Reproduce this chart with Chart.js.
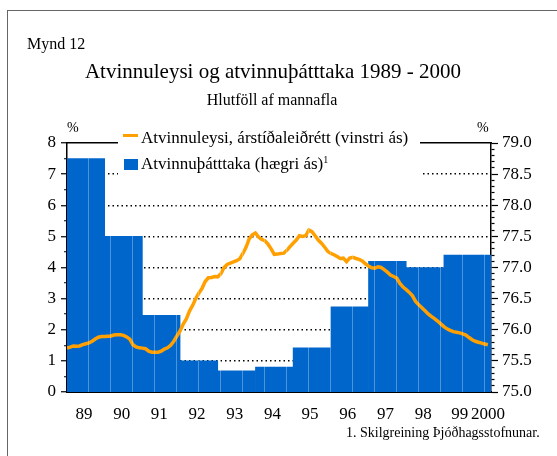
<!DOCTYPE html>
<html>
<head>
<meta charset="utf-8">
<script src="https://cdn.jsdelivr.net/npm/chart.js@4.4.0/dist/chart.umd.min.js"></script>
<style>
html, body { margin: 0; padding: 0; width: 557px; height: 456px; overflow: hidden; background: #fff; }
body { position: relative; font-family: "Liberation Serif", "Times New Roman", serif; color: #000; }
#chart { position: absolute; left: 0; top: 0; }
.rule { position: absolute; background: #666; z-index: 2; }
.txt { position: absolute; white-space: nowrap; }
#legend { position: absolute; left: 118px; top: 126px; width: 302px; height: 51px; background: #fff; }
.swatch { position: absolute; }
sup { font-size: 10px; line-height: 0; vertical-align: 6px; }
</style>
</head>
<body>
<canvas id="chart" width="557" height="456"></canvas>
<div class="rule" style="left:7px; top:10px; width:550px; height:1px;"></div>
<div class="rule" style="left:7px; top:10px; width:1px; height:446px;"></div>

<div class="txt" style="left:27px; top:36px; font-size:16px; line-height:16px;">Mynd 12</div>
<div class="txt" style="left:0; width:546px; text-align:center; top:61px; font-size:21px; line-height:21px;">Atvinnuleysi og atvinnuþátttaka 1989 - 2000</div>
<div class="txt" style="left:0; width:544px; text-align:center; top:92px; font-size:16px; line-height:16px;">Hlutföll af mannafla</div>
<div class="txt" style="left:67px; top:121px; font-size:14px; line-height:14px;">%</div>
<div class="txt" style="left:477px; top:121px; font-size:14px; line-height:14px;">%</div>

<div id="legend">
  <div class="swatch" style="left:5px; top:8px; width:15px; height:3px; background:#ffa000;"></div>
  <div class="txt" style="left:23px; top:3px; font-size:17px; line-height:17px;">Atvinnuleysi, árstíðaleiðrétt (vinstri ás)</div>
  <div class="swatch" style="left:6px; top:33px; width:14px; height:11px; background:#0066cc;"></div>
  <div class="txt" style="left:23px; top:29px; font-size:17px; line-height:17px;">Atvinnuþátttaka (hægri ás)<sup>1</sup></div>
</div>

<div class="txt" style="left:346px; top:426px; font-size:14px; line-height:14px;">1. Skilgreining Þjóðhagsstofnunar.</div>

<script>
// Atvinnuleysi, árstíðaleiðrétt, % af mannafla, mánaðarlega frá jan. 1989
const unemploymentStart = 1989;
const unemployment = [
    1.41, 1.44, 1.48, 1.47, 1.48, 1.52, 1.55, 1.58, 1.63, 1.70, 1.76, 1.78,
    1.78, 1.79, 1.80, 1.83, 1.84, 1.84, 1.82, 1.77, 1.70, 1.52, 1.45, 1.42,
    1.41, 1.39, 1.31, 1.28, 1.28, 1.28, 1.31, 1.38, 1.42, 1.50, 1.63, 1.80,
    1.96, 2.18, 2.35, 2.60, 2.78, 3.00, 3.18, 3.33, 3.55, 3.67, 3.68, 3.71,
    3.70, 3.80, 4.00, 4.10, 4.14, 4.18, 4.22, 4.28, 4.45, 4.65, 4.92, 5.05,
    5.11, 4.98, 4.90, 4.86, 4.75, 4.60, 4.42, 4.43, 4.45, 4.46, 4.55, 4.67,
    4.78, 4.88, 5.02, 5.00, 5.02, 5.20, 5.15, 5.02, 4.88, 4.78, 4.66, 4.52,
    4.45, 4.41, 4.35, 4.29, 4.30, 4.19, 4.30, 4.33, 4.29, 4.26, 4.21, 4.12,
    4.05, 3.99, 3.98, 4.02, 4.00, 3.93, 3.85, 3.76, 3.71, 3.66, 3.49, 3.37,
    3.29, 3.20, 3.09, 2.91, 2.80, 2.71, 2.61, 2.51, 2.43, 2.36, 2.28, 2.19,
    2.10, 2.03, 1.98, 1.94, 1.92, 1.90, 1.87, 1.83, 1.75, 1.68, 1.63, 1.60,
    1.57, 1.54, 1.52
];

// Atvinnuþátttaka, ársgildi (%)
const participationYears = [1989, 1990, 1991, 1992, 1993, 1994, 1995, 1996, 1997, 1998, 1999, 2000];
const participation = [78.75, 77.5, 76.23, 75.5, 75.34, 75.4, 75.71, 76.37, 77.1, 77.0, 77.2, 77.2];

// x axis: years, labels sit near the middle of each year
const xMin = 1989;
const xMax = 2000.25;
const xTickYears = [1989.45, 1990.45, 1991.45, 1992.45, 1993.45, 1994.45, 1995.45, 1996.45, 1997.45, 1998.45, 1999.42, 2000.17];
const xTickLabels = ['89', '90', '91', '92', '93', '94', '95', '96', '97', '98', '99', '2000'];

// y axes
const leftMin = 0, leftMax = 8, leftStep = 0.5;
const rightMin = 75, rightMax = 79, rightStep = 0.1;

const isHalf = v => Math.abs(v * 2 - Math.round(v * 2)) < 1e-6;

Chart.defaults.font.family = '"Liberation Serif", "Times New Roman", serif';
Chart.defaults.font.size = 17;
Chart.defaults.color = '#000';

// thin light seams across the bars, as in the original print
const seamStep = 7 / 12;
const seams = [];
for (let t = xMin + seamStep; t < xMax; t += seamStep) seams.push({ value: t });

const ctx = document.getElementById('chart').getContext('2d');
new Chart(ctx, {
    type: 'line',
    data: {
        datasets: [{
            type: 'line',
            label: 'Atvinnuleysi, árstíðaleiðrétt (vinstri ás)',
            data: unemployment.map((v, i) => ({ x: unemploymentStart + i / 12, y: v })),
            xAxisID: 'x',
            yAxisID: 'y',
            borderColor: '#ffa000',
            borderWidth: 3.5,
            pointRadius: 0,
            tension: 0
        }, {
            type: 'bar',
            label: 'Atvinnuþátttaka (hægri ás)',
            data: participationYears.map((yr, i) => ({ x: yr + 0.5, y: participation[i] })),
            xAxisID: 'xBar',
            yAxisID: 'y1',
            backgroundColor: '#0066cc',
            borderWidth: 0,
            grouped: false,
            barPercentage: 1,
            categoryPercentage: 1
        }]
    },
    options: {
        responsive: false,
        animation: false,
        layout: { padding: 0 },
        plugins: {
            legend: { display: false },
            tooltip: { enabled: false }
        },
        scales: {
            x: {
                type: 'linear',
                position: 'bottom',
                min: xMin,
                max: xMax,
                offset: false,
                grid: { display: false },
                border: { display: true, color: '#000', width: 2 },
                ticks: {
                    autoSkip: false,
                    maxRotation: 0,
                    padding: 4,
                    callback: (v, i) => xTickLabels[i]
                },
                afterBuildTicks: s => { s.ticks = xTickYears.map(v => ({ value: v })); },
                afterFit: s => { s.height = 64; }
            },
            xTop: {
                type: 'linear',
                position: 'top',
                min: xMin,
                max: xMax,
                offset: false,
                grid: { drawOnChartArea: true, drawTicks: false, color: 'rgba(255,255,255,0.3)', lineWidth: 1, z: 1 },
                border: { display: true, color: '#000', width: 1.5, z: 1 },
                ticks: { display: false },
                afterBuildTicks: s => { s.ticks = seams.slice(); },
                afterFit: s => { s.height = 143; }
            },
            xBar: {
                type: 'linear',
                position: 'bottom',
                display: false,
                min: xMin,
                max: xMax,
                offset: false,
                afterBuildTicks: s => { s.ticks = participationYears.map(v => ({ value: v })); }
            },
            y: {
                position: 'left',
                min: leftMin,
                max: leftMax,
                beginAtZero: false,
                ticks: {
                    stepSize: leftStep,
                    autoSkip: false,
                    padding: 5,
                    callback: v => Number.isInteger(v) ? v : ''
                },
                grid: {
                    color: c => (c.tick && Number.isInteger(c.tick.value) && c.tick.value > leftMin && c.tick.value < leftMax) ? '#000' : 'rgba(0,0,0,0)',
                    lineWidth: 1.5,
                    tickColor: '#000',
                    tickWidth: 1.2,
                    tickLength: 6,
                    tickBorderDash: c => (c.tick && Number.isInteger(c.tick.value)) ? [] : [0, 3, 3, 20]
                },
                border: { display: true, color: '#000', width: 1.5, dash: [1.5, 3] },
                afterFit: s => { s.width = 67; }
            },
            y1: {
                position: 'right',
                min: rightMin,
                max: rightMax,
                beginAtZero: false,
                ticks: {
                    stepSize: rightStep,
                    autoSkip: false,
                    padding: 4,
                    callback: v => isHalf(v) ? v.toFixed(1) : ''
                },
                grid: {
                    drawOnChartArea: false,
                    color: '#000',
                    tickColor: '#000',
                    tickWidth: 1.2,
                    tickLength: 7,
                    tickBorderDash: c => (c.tick && isHalf(c.tick.value)) ? [] : [3, 20]
                },
                border: { display: true, color: '#000', width: 1.5 },
                afterFit: s => { s.width = 66; }
            }
        }
    }
});
</script>
</body>
</html>
